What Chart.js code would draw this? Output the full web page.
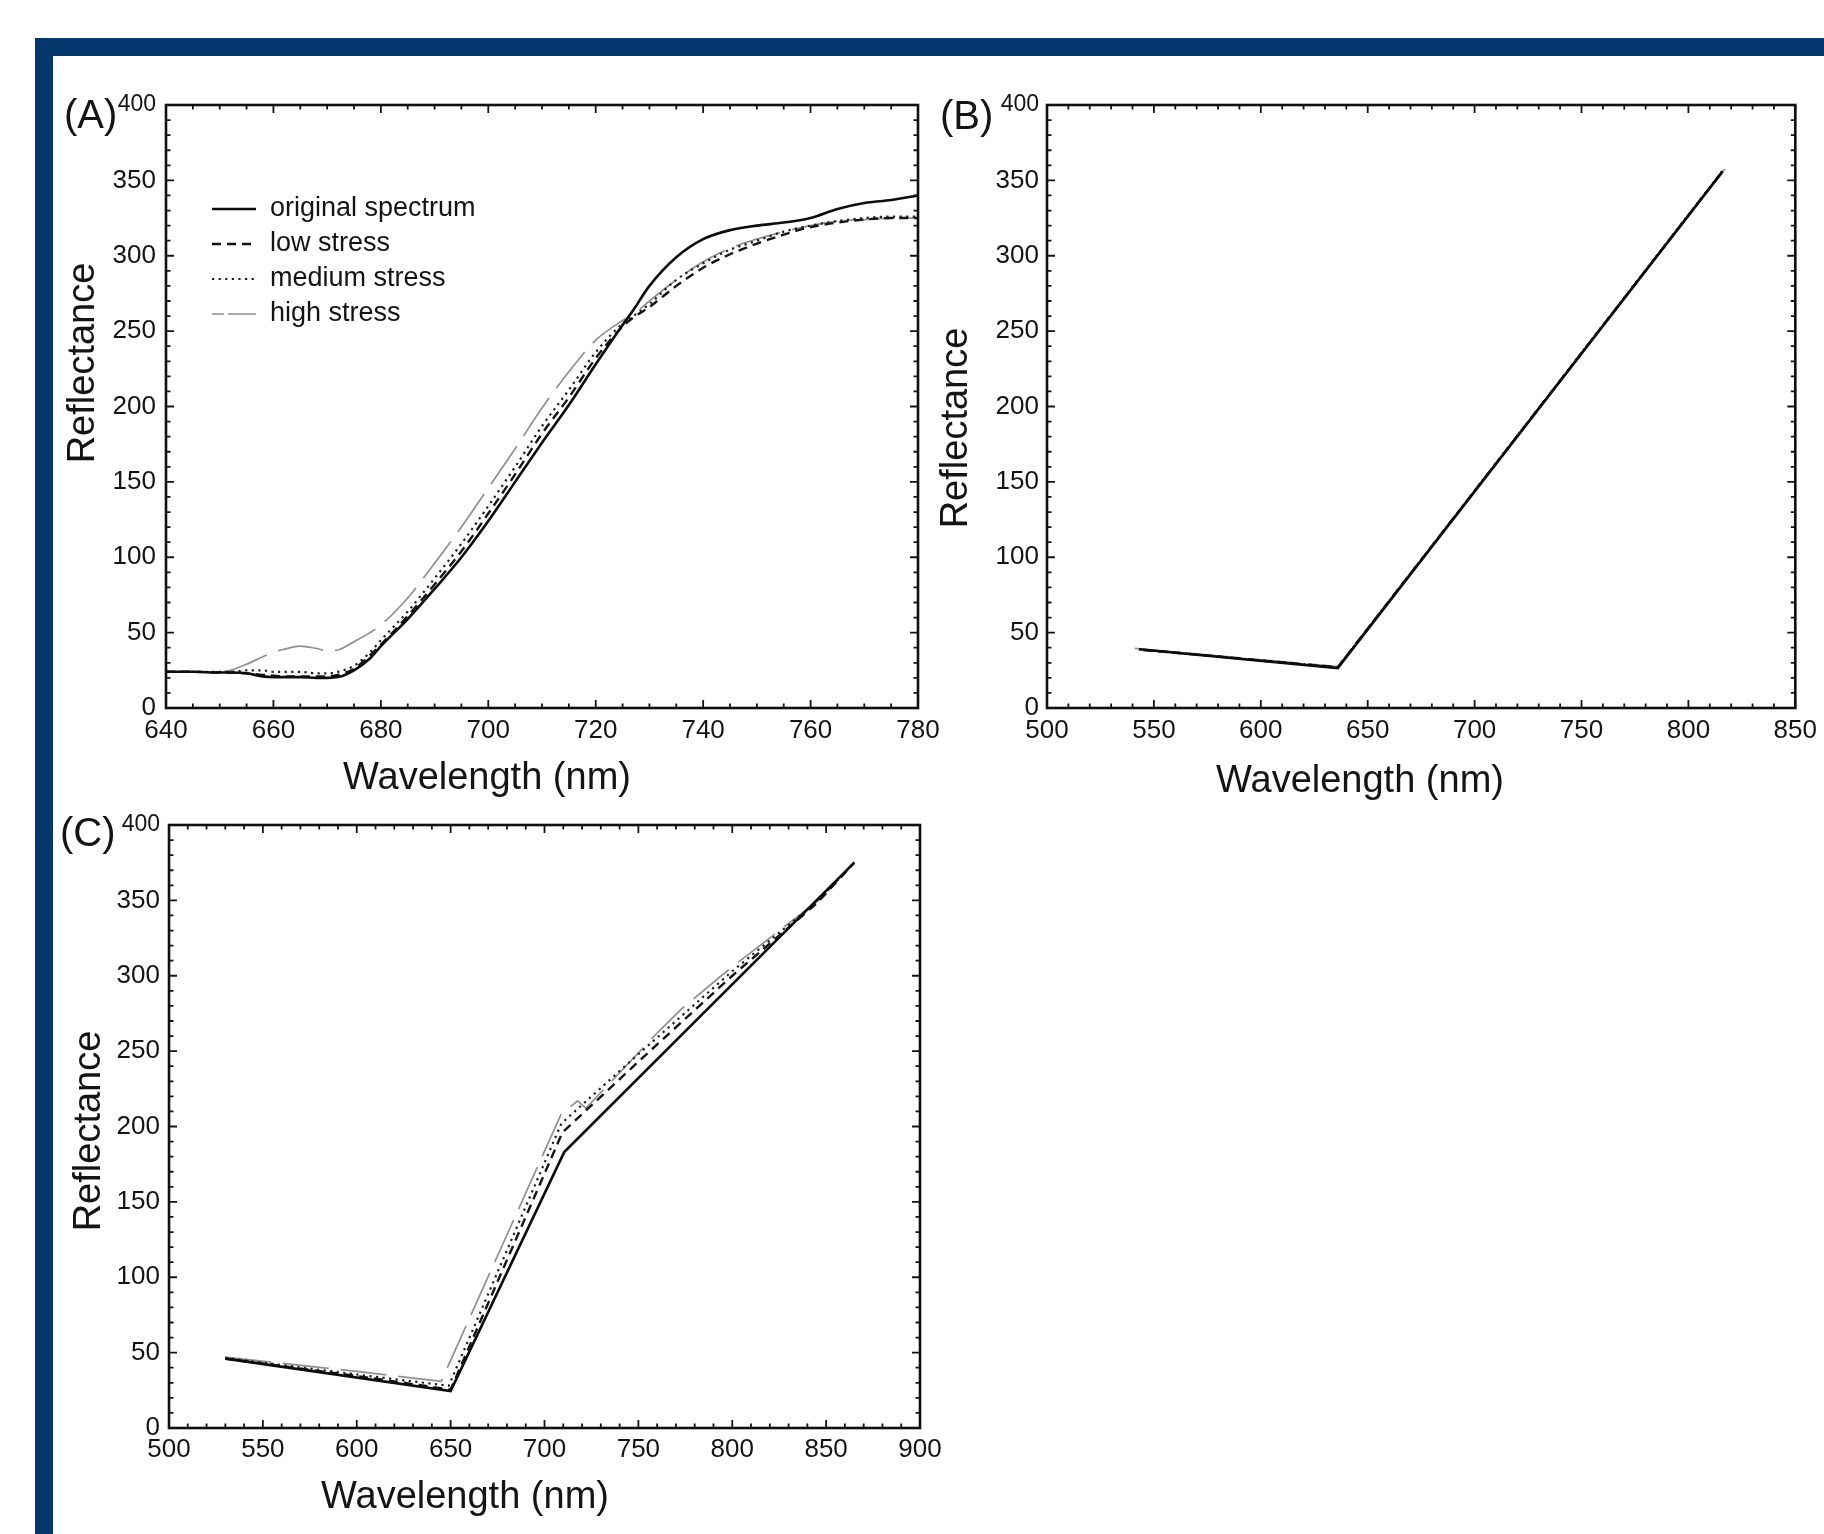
<!DOCTYPE html>
<html>
<head>
<meta charset="utf-8">
<title>Reflectance spectra under stress</title>
<script src="https://cdn.jsdelivr.net/npm/chart.js@4.4.1/dist/chart.umd.min.js"></script>
<style>
  html, body { margin:0; padding:0; background:#ffffff; }
  body { position:relative; width:1824px; height:1534px; overflow:hidden; }
  .bar { position:absolute; background:#05376c; }
  canvas { position:absolute; }
</style>
</head>
<body>
<div class="bar" style="left:35px;top:38px;width:1789px;height:18px"></div>
<div class="bar" style="left:35px;top:38px;width:18px;height:1496px"></div>
<canvas id="chartA" width="920" height="752" style="left:56px;top:60px"></canvas>
<canvas id="chartB" width="894" height="752" style="left:930px;top:60px"></canvas>
<canvas id="chartC" width="920" height="734" style="left:56px;top:800px"></canvas>
<script>
// ---------------- data ----------------
const seriesNames = ['original spectrum', 'low stress', 'medium stress', 'high stress'];

// Panel A : wavelength (nm) and reflectance
const wlA   = [640, 645, 650, 652, 655, 658, 660, 662, 665, 668, 670, 672, 675, 678, 680, 685, 690, 695, 700, 705, 710, 715, 720, 725, 727, 730, 735, 740, 745, 750, 755, 760, 765, 770, 775, 780];
const origA = [24, 24, 23.5, 23.5, 23, 21, 20.5, 20.5, 20.5, 20, 20, 20.5, 25, 33, 41, 59, 79, 100, 124, 150, 176, 201, 228, 254, 264, 280, 299, 311, 317, 320, 322, 325, 331, 335, 337, 340];
const lowA  = [24, 24, 23.5, 23.5, 23, 22, 21.5, 21, 21, 21, 21, 22, 26, 35, 42, 61, 82, 104, 129, 155, 182, 206, 232, 253, 259, 266, 280, 292, 301, 308, 314, 319, 322, 324, 325, 325];
const medA  = [24, 24, 24, 24, 25, 25, 24, 24, 24, 23, 23, 24, 28, 37, 45, 64, 86, 109, 134, 160, 187, 211, 236, 255, 260, 268, 284, 295, 304, 310, 316, 320, 323, 325, 326, 326];
const highA = [24, 24, 24, 25, 29, 34, 37, 39, 41, 39.5, 38, 38.5, 44, 50, 55, 73, 96, 120, 146, 172, 199, 223, 244, 257, 261, 270, 284, 296, 305, 311, 316, 320, 323, 324, 325, 325];

// Panel B
const bOrigX = [543, 636, 816];
const bOrigY = [39, 26.5, 356];
const bLowX  = [545, 570, 600, 620, 636, 816];
const bLowY  = [38.5, 35.5, 31.5, 29, 27, 356];
const bMedX  = [543, 636, 816];
const bMedY  = [39, 27, 356.5];
const bHighX = [541, 636, 817];
const bHighY = [39.5, 27.5, 357.5];

// Panel C
const cOrigX = [530, 650, 710.5, 865];
const cOrigY = [46, 24.5, 183, 375];
const cLowX  = [530, 600, 650, 709.5, 750, 800, 845, 865];
const cLowY  = [46, 34.5, 25.5, 196, 243, 300, 348, 375];
const cMedX  = [530, 600, 649, 709, 750, 800, 845, 865];
const cMedY  = [46.5, 35.5, 28, 202, 248, 303, 349, 375];
const cHighX = [530, 600, 645, 708.8, 717.7, 722, 760, 773, 800, 845, 865];
const cHighY = [47, 37.5, 31, 208, 217, 212, 262, 278, 306, 349, 375.5];

// tick labels
const yTicks  = [0, 50, 100, 150, 200, 250, 300, 350, 400];
const xTicksA = [640, 660, 680, 700, 720, 740, 760, 780];
const xTicksB = [500, 550, 600, 650, 700, 750, 800, 850];
const xTicksC = [500, 550, 600, 650, 700, 750, 800, 850, 900];

// ---------------- styles ----------------
const FONT = '"Liberation Sans", Arial, Helvetica, sans-serif';
const INK = '#151413';
Chart.defaults.font.family = FONT;
Chart.defaults.color = INK;
Chart.defaults.animation = false;

const lineStyles = [
  { borderColor: '#0c0c0c', borderWidth: 2.6, borderDash: [],        legendDash: [] },
  { borderColor: '#141414', borderWidth: 2.4, borderDash: [9, 6],    legendDash: [9, 6] },
  { borderColor: '#1e1e1e', borderWidth: 2.2, borderDash: [2.2, 4.4], legendDash: [2.2, 4.4] },
  { borderColor: '#8f8f8f', borderWidth: 1.7, borderDash: [46, 12],  legendDash: [12, 4, 28] }
];

function pts(xs, ys) { return xs.map((x, i) => ({ x: x, y: ys[i] })); }

function makeDatasets(list, smooth) {
  return list.map((data, i) => Object.assign({
    label: seriesNames[i],
    data: data,
    pointRadius: 0,
    fill: false,
    borderCapStyle: 'butt',
    tension: 0,
    cubicInterpolationMode: smooth ? 'monotone' : 'default'
  }, {
    borderColor: lineStyles[i].borderColor,
    borderWidth: lineStyles[i].borderWidth,
    borderDash: lineStyles[i].borderDash,
    legendDash: lineStyles[i].legendDash
  }));
}

// frame, inward tick marks, axis titles, panel label, legend
const decor = {
  id: 'decor',
  afterDraw(chart, args, o) {
    const ctx = chart.ctx, a = chart.chartArea;
    const xs = chart.scales.x, ys = chart.scales.y;
    const ox = o.box[0], oy = o.box[1];
    ctx.save();
    ctx.strokeStyle = '#141414';
    ctx.lineWidth = 1.8;
    ctx.beginPath();
    const nx = Math.round((xs.max - xs.min) / o.xMinor);
    for (let i = 0; i <= nx; i++) {
      const v = xs.min + i * o.xMinor;
      const px = xs.getPixelForValue(v);
      const len = (i % o.xEvery === 0) ? 8 : 4.5;
      ctx.moveTo(px, a.bottom); ctx.lineTo(px, a.bottom - len);
      ctx.moveTo(px, a.top); ctx.lineTo(px, a.top + len);
    }
    const ny = Math.round((ys.max - ys.min) / o.yMinor);
    for (let i = 0; i <= ny; i++) {
      const v = ys.min + i * o.yMinor;
      const py = ys.getPixelForValue(v);
      const len = (i % o.yEvery === 0) ? 8 : 4.5;
      ctx.moveTo(a.left, py); ctx.lineTo(a.left + len, py);
      ctx.moveTo(a.right, py); ctx.lineTo(a.right - len, py);
    }
    ctx.stroke();
    ctx.lineWidth = 2.6;
    ctx.strokeStyle = '#0f0f0f';
    ctx.strokeRect(a.left, a.top, a.right - a.left, a.bottom - a.top);

    ctx.fillStyle = INK;
    ctx.textBaseline = 'middle';
    // y title
    ctx.save();
    ctx.translate(o.yTitle[0] - ox, o.yTitle[1] - oy);
    ctx.rotate(-Math.PI / 2);
    ctx.textAlign = 'center';
    ctx.font = '38px ' + FONT;
    ctx.fillText('Reflectance', 0, 0);
    ctx.restore();
    // x title
    ctx.textAlign = 'center';
    ctx.font = '38px ' + FONT;
    ctx.fillText('Wavelength (nm)', o.xTitle[0] - ox, o.xTitle[1] - oy);
    // panel label
    ctx.textAlign = 'left';
    ctx.font = '40px ' + FONT;
    ctx.fillText(o.panel, o.panelPos[0] - ox, o.panelPos[1] - oy);

    // legend
    if (o.legend) {
      const L = o.legend;
      ctx.font = '27px ' + FONT;
      chart.data.datasets.forEach((ds, i) => {
        const yy = L.y0 + i * L.dy - oy;
        ctx.strokeStyle = ds.borderColor;
        ctx.lineWidth = ds.borderWidth;
        ctx.setLineDash(ds.legendDash || []);
        ctx.beginPath();
        ctx.moveTo(L.x0 - ox, yy); ctx.lineTo(L.x1 - ox, yy);
        ctx.stroke();
        ctx.setLineDash([]);
        ctx.fillStyle = INK;
        ctx.fillText(ds.label, L.tx - ox, yy);
      });
    }
    ctx.restore();
  }
};

function scalesFor(xRange, xTicks, yW, xH, yPad, xPad) {
  return {
    x: {
      type: 'linear', min: xRange[0], max: xRange[1],
      afterBuildTicks: s => { s.ticks = xTicks.map(v => ({ value: v })); },
      afterFit: s => { s.height = xH; },
      grid: { display: false, drawTicks: false },
      border: { display: false },
      ticks: { autoSkip: false, maxRotation: 0, minRotation: 0, padding: xPad, font: { size: 26 }, color: INK }
    },
    y: {
      type: 'linear', min: 0, max: 400,
      afterBuildTicks: s => { s.ticks = yTicks.map(v => ({ value: v })); },
      afterFit: s => { s.width = yW; },
      grid: { display: false, drawTicks: false },
      border: { display: false },
      ticks: {
        autoSkip: false, padding: yPad, color: INK,
        font: c => ({ size: (c.tick && c.tick.value === 400) ? 23 : 26 })
      }
    }
  };
}

function build(id, cfg) {
  const box = cfg.box, area = cfg.area;
  return new Chart(document.getElementById(id), {
    type: 'line',
    data: { datasets: cfg.datasets },
    options: {
      responsive: false,
      devicePixelRatio: 1,
      animation: false,
      layout: { padding: { left: 0, top: area[1] - box[1], right: box[0] + box[2] - area[2], bottom: 0 } },
      scales: scalesFor(cfg.xRange, cfg.xTicks, area[0] - box[0], box[1] + box[3] - area[3], cfg.yPad, cfg.xPad),
      plugins: {
        legend: { display: false },
        tooltip: { enabled: false },
        decor: Object.assign({ box: box }, cfg.decor)
      }
    },
    plugins: [decor]
  });
}

build('chartA', {
  box: [56, 60, 920, 752], area: [166, 105, 918, 708],
  xRange: [640, 780], xTicks: xTicksA, yPad: 10, xPad: 7,
  datasets: makeDatasets([pts(wlA, origA), pts(wlA, lowA), pts(wlA, medA), pts(wlA, highA)], true),
  decor: {
    xMinor: 5, xEvery: 4, yMinor: 10, yEvery: 5,
    yTitle: [84, 363], xTitle: [487, 779], panel: '(A)', panelPos: [64, 117],
    legend: { x0: 212, x1: 256, tx: 270, y0: 209, dy: 35 }
  }
});

build('chartB', {
  box: [930, 60, 894, 752], area: [1047, 105, 1800, 708],
  xRange: [500, 850], xTicks: xTicksB, yPad: 8, xPad: 7,
  datasets: makeDatasets([pts(bOrigX, bOrigY), pts(bLowX, bLowY), pts(bMedX, bMedY), pts(bHighX, bHighY)], false),
  decor: {
    xMinor: 10, xEvery: 5, yMinor: 10, yEvery: 5,
    yTitle: [957, 428], xTitle: [1360, 782], panel: '(B)', panelPos: [940, 118]
  }
});

build('chartC', {
  box: [56, 800, 920, 734], area: [169, 825, 920, 1428],
  xRange: [500, 900], xTicks: xTicksC, yPad: 9, xPad: 6,
  datasets: makeDatasets([pts(cOrigX, cOrigY), pts(cLowX, cLowY), pts(cMedX, cMedY), pts(cHighX, cHighY)], false),
  decor: {
    xMinor: 10, xEvery: 5, yMinor: 10, yEvery: 5,
    yTitle: [90, 1131], xTitle: [465, 1498], panel: '(C)', panelPos: [60, 835]
  }
});
</script>
</body>
</html>
